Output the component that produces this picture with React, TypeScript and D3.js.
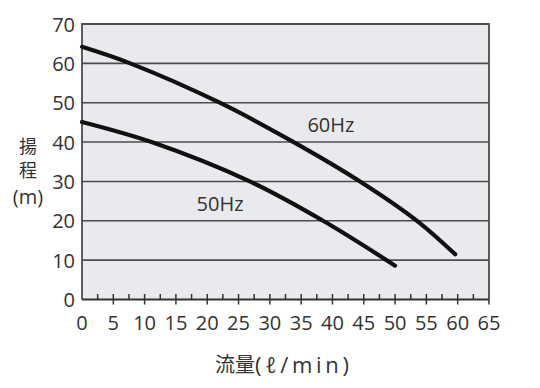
import React from "react";
import * as d3 from "d3";

const flow60 = [0, 7.7, 22, 33.8, 44.4, 53.5, 59.6];
const head60 = [64.2, 60, 50, 40, 30, 20, 11.5];
const flow50 = [0, 11.1, 26.8, 38.5, 50];
const head50 = [45.1, 40, 30, 20, 8.6];
const yTicks = [0, 10, 20, 30, 40, 50, 60, 70];
const xTicks = [0, 5, 10, 15, 20, 25, 30, 35, 40, 45, 50, 55, 60, 65];
const minorTicks = [2.5, 7.5, 12.5, 17.5, 22.5, 27.5, 32.5, 37.5, 42.5, 47.5, 52.5, 57.5, 62.5];
const seriesLabels = [
  { text: "60Hz", q: 36.0, h: 42.6 },
  { text: "50Hz", q: 18.3, h: 22.5 },
];
const yLabelLines = ["揚", "程", "(m)"];
const xLabelMain = "流量";
const xLabelUnit = "(ℓ/min)";

const W = 540;
const H = 388;
const left = 82;
const right = 489;
const top = 24;
const bottom = 299.5;

export default function App() {
  const x = d3.scaleLinear().domain([0, 65]).range([left, right]);
  const y = d3.scaleLinear().domain([0, 70]).range([bottom, top]);
  const line = d3
    .line<[number, number]>()
    .x((d) => x(d[0]))
    .y((d) => y(d[1]))
    .curve(d3.curveCatmullRom.alpha(0.5));
  const d60 = line(flow60.map((q, i) => [q, head60[i]]) as [number, number][]) || "";
  const d50 = line(flow50.map((q, i) => [q, head50[i]]) as [number, number][]) || "";
  const font = "'Open Sans', 'Noto Sans CJK JP', sans-serif";
  const txt = "#333";
  const grid = "#4d4d4d";

  return (
    <svg
      width={W}
      height={H}
      style={{ position: "absolute", left: 0, top: 0, background: "#fff" }}
      fontFamily={font}
    >
      <rect x={left} y={top} width={right - left} height={bottom - top} fill="#e8eaed" />
      {yTicks
        .filter((t) => t > 0 && t < 70)
        .map((t) => (
          <line key={t} x1={left} x2={right} y1={y(t)} y2={y(t)} stroke={grid} strokeWidth={1.6} />
        ))}
      <path
        d={`M${left},${bottom} V${top} H${right} V${bottom}`}
        fill="none"
        stroke={grid}
        strokeWidth={1.8}
      />
      <line x1={left} x2={right} y1={bottom} y2={bottom} stroke="#333" strokeWidth={1.8} />
      {minorTicks.map((t) => (
        <line key={"m" + t} x1={x(t)} x2={x(t)} y1={bottom - 5.5} y2={bottom} stroke="#333" strokeWidth={1.5} />
      ))}
      {xTicks
        .filter((t) => t > 0 && t < 65)
        .map((t) => (
          <line key={"M" + t} x1={x(t)} x2={x(t)} y1={bottom - 5.5} y2={bottom + 5} stroke="#333" strokeWidth={1.5} />
        ))}
      <line x1={right} x2={right} y1={bottom} y2={bottom + 5} stroke="#333" strokeWidth={1.5} />
      {yTicks.map((t) => (
        <text
          key={"y" + t}
          x={75}
          y={y(t)}
          textAnchor="end"
          dominantBaseline="central"
          fontSize={20}
          fill={txt}
        >
          {t}
        </text>
      ))}
      {xTicks.map((t) => (
        <text key={"x" + t} x={x(t)} y={330} textAnchor="middle" fontSize={20} fill={txt}>
          {t}
        </text>
      ))}
      <path d={d60} fill="none" stroke="#111" strokeWidth={4.2} strokeLinecap="round" />
      <path d={d50} fill="none" stroke="#111" strokeWidth={4.2} strokeLinecap="round" />
      {seriesLabels.map((s) => (
        <text key={s.text} x={x(s.q)} y={y(s.h)} fontSize={20} fill={txt}>
          {s.text}
        </text>
      ))}
      {yLabelLines.map((s, i) => (
        <text
          key={s}
          x={28}
          y={[145.5, 170, 196][i]}
          textAnchor="middle"
          dominantBaseline="central"
          fontSize={[18, 18, 20][i]}
          fill={txt}
        >
          {s}
        </text>
      ))}
      <text x={215} y={364} dominantBaseline="central" fontSize={20} fill={txt}>
        {xLabelMain}
      </text>
      <text
        x={255}
        y={364}
        dominantBaseline="central"
        fontSize={22}
        fill={txt}
        textLength={94}
        lengthAdjust="spacing"
      >
        {xLabelUnit}
      </text>
    </svg>
  );
}
